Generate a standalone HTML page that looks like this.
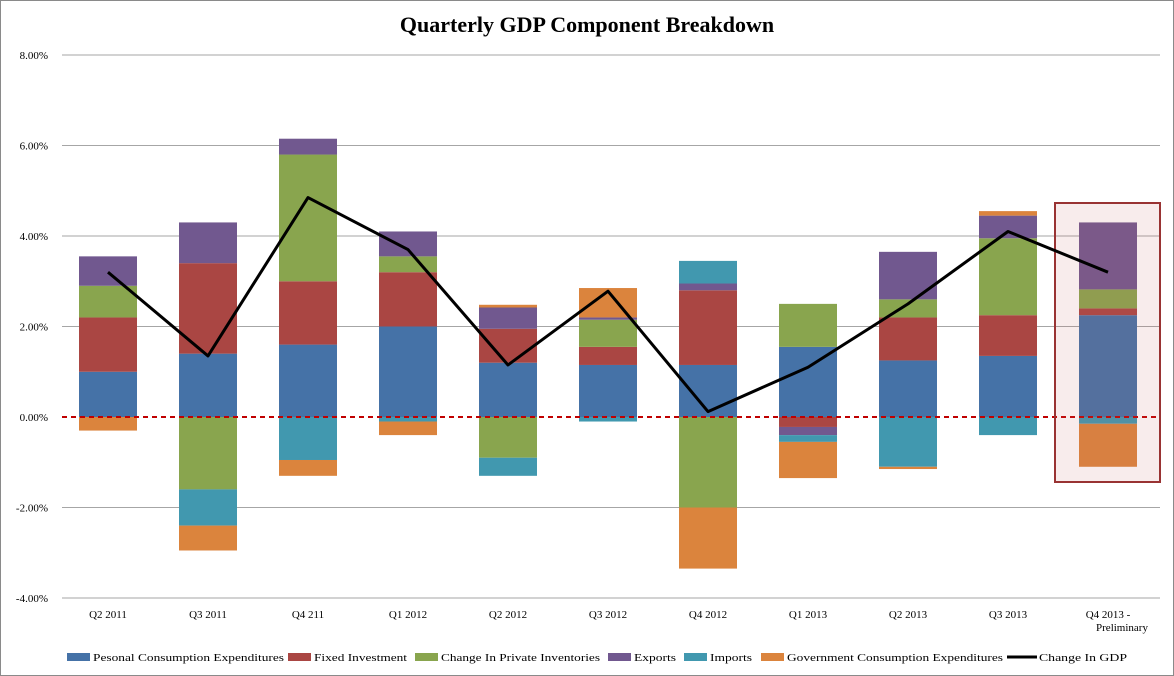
<!DOCTYPE html>
<html><head><meta charset="utf-8"><style>
body{margin:0;background:#fff}
svg{display:block;font-family:"Liberation Serif",serif}
</style></head><body>
<svg id="c" width="1174" height="676" xmlns="http://www.w3.org/2000/svg">
<rect x="0.5" y="0.5" width="1173" height="675" fill="#fff" stroke="#8a8a8a"/>
<text x="587" y="32" text-anchor="middle" font-size="22" font-weight="bold">Quarterly GDP Component Breakdown</text>
</svg>
<script>
const categories=["Q2 2011","Q3 2011","Q4 211","Q1 2012","Q2 2012","Q3 2012","Q4 2012","Q1 2013","Q2 2013","Q3 2013","Q4 2013 -|Preliminary"];
const pce=[1.0,1.4,1.6,2.0,1.2,1.15,1.15,1.55,1.25,1.35,2.25];
const fixedInv=[1.2,2.0,1.4,1.2,0.75,0.4,1.65,-0.22,0.95,0.9,0.15];
const inventories=[0.7,-1.6,2.8,0.35,-0.9,0.6,-2.0,0.95,0.4,1.7,0.42];
const exportsV=[0.65,0.9,0.35,0.55,0.47,0.05,0.15,-0.18,1.05,0.5,1.48];
const importsV=[0,-0.8,-0.95,-0.1,-0.4,-0.1,0.5,-0.15,-1.1,-0.4,-0.15];
const gov=[-0.3,-0.55,-0.35,-0.3,0.06,0.65,-1.35,-0.8,-0.05,0.1,-0.95];
const gdp=[3.2,1.35,4.85,3.7,1.15,2.78,0.12,1.1,2.5,4.1,3.2];
const yTicks=[8,6,4,2,0,-2,-4];
const seriesNames=["Pesonal Consumption Expenditures","Fixed Investment","Change In Private Inventories","Exports","Imports","Government Consumption Expenditures"];
const seriesData=[pce,fixedInv,inventories,exportsV,importsV,gov];
const colors=["#4572a7","#aa4643","#89a54e","#71588f","#4198af","#db843d"];

const NS="http://www.w3.org/2000/svg";
const svg=document.getElementById('c');
const L=58,R=1158,GL=62,GR=1160,Y0=417,K=45.25;
const y=v=>Y0-v*K;
const step=(R-L)/categories.length;
const xc=i=>L+step*(i+0.5);
const BW=58;
function mk(t,a){const e=document.createElementNS(NS,t);for(const k in a)e.setAttribute(k,a[k]);svg.appendChild(e);return e;}
yTicks.forEach(t=>{
  if(t!==0){const g=mk('line',{x1:GL,x2:GR,y1:y(t),y2:y(t),stroke:'#a6a6a6','stroke-width':1});
  
  }
  const tx=mk('text',{x:48,y:y(t)+4,'text-anchor':'end','font-size':11});
  tx.textContent=t.toFixed(2)+'%';
  
  
});
categories.forEach((c,i)=>{
  let pos=0,neg=0;
  seriesData.forEach((s,j)=>{
    const v=s[i];if(!v)return;
    let a,b;
    if(v>0){a=pos;b=pos+v;pos=b;}else{a=neg;b=neg+v;neg=b;}
    const r=mk('rect',{x:xc(i)-BW/2,y:Math.min(y(a),y(b)),width:BW,height:Math.abs(y(a)-y(b)),fill:colors[j]});
    
    
  });
  const parts=c.split('|');
  parts.forEach((p,k)=>{
    const t=mk('text',{x:xc(i)+(k?14:0),y:618+k*13,'text-anchor':'middle','font-size':11});
    t.textContent=p;
    
    
  });
});
const zl=mk('line',{x1:GL,x2:GR,y1:Y0,y2:Y0,stroke:'#c00000','stroke-width':2,'stroke-dasharray':'5,4'});


const hl=mk('rect',{x:1055,y:203,width:105,height:279,fill:'rgba(200,100,100,0.12)',stroke:'#993333','stroke-width':2});


const ln=mk('polyline',{points:gdp.map((v,i)=>xc(i)+','+y(v)).join(' '),fill:'none',stroke:'#000','stroke-width':3,'stroke-linejoin':'round'});


const lx=[67,288,415,608,684,761];
const lw=[191,93,159,42,42,216];
seriesNames.forEach((n,j)=>{
  const r=mk('rect',{x:lx[j],y:653,width:23,height:8,fill:colors[j]});
  
  
  const t=mk('text',{x:lx[j]+26,y:661,'font-size':11,textLength:lw[j],lengthAdjust:'spacingAndGlyphs'});
  t.textContent=n;
  
  
});
const gl=mk('line',{x1:1007,x2:1037,y1:657,y2:657,stroke:'#000','stroke-width':3});


const gt=mk('text',{x:1039,y:661,'font-size':11,textLength:88,lengthAdjust:'spacingAndGlyphs'});
gt.textContent='Change In GDP';


</script>
</body></html>
